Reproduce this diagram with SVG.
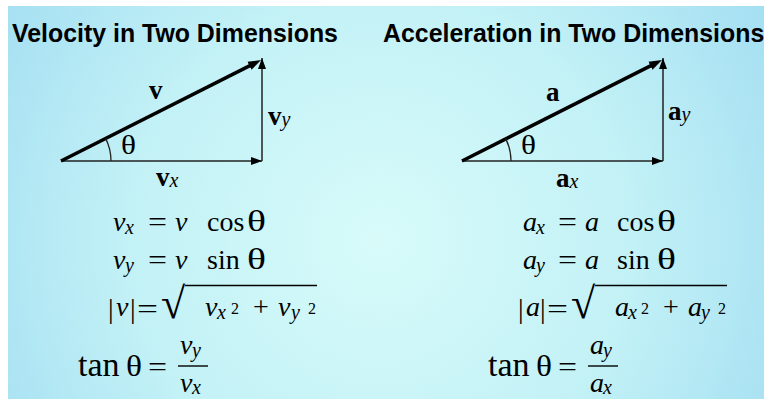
<svg xmlns="http://www.w3.org/2000/svg" width="764" height="399" viewBox="0 0 764 399">
<defs>
<radialGradient id="bg" cx="380" cy="240" r="460" gradientUnits="userSpaceOnUse">
<stop offset="0" stop-color="#d8fbfa"/>
<stop offset="0.55" stop-color="#c2f1f6"/>
<stop offset="1" stop-color="#a3def2"/>
</radialGradient>
<marker id="ahThick" markerUnits="userSpaceOnUse" markerWidth="14" markerHeight="10" viewBox="0 0 14 10" refX="5" refY="5" orient="auto">
<path d="M0,0.5 L13,5 L0,9.5 Z" fill="#000"/>
</marker>
<marker id="ahThin" markerUnits="userSpaceOnUse" markerWidth="12" markerHeight="10" viewBox="0 0 12 10" refX="11" refY="5" orient="auto">
<path d="M0,1 L11,5 L0,9 Z" fill="#000"/>
</marker>
</defs>
<style>
.title{font-family:"Liberation Sans",Arial,sans-serif;font-weight:bold;font-size:24.9px;fill:#000}
.m{font-family:"Liberation Serif","Times New Roman",serif;font-size:28px;fill:#000}
.i{font-style:italic}
.th{font-family:"Liberation Serif","Times New Roman",serif;font-size:30px;fill:#000}
.tan{font-family:"Liberation Serif","Times New Roman",serif;font-size:34px;fill:#000}
.rad{font-family:"Liberation Serif","Times New Roman",serif;font-size:44px;fill:#000}
.sub{font-family:"Liberation Serif","Times New Roman",serif;font-style:italic;font-size:20px;fill:#000}
.sup{font-family:"Liberation Serif","Times New Roman",serif;font-size:16px;fill:#000}
.vb{font-family:"Liberation Serif","Times New Roman",serif;font-weight:bold;font-size:27px;fill:#000}
.lab{font-family:"Liberation Serif","Times New Roman",serif;font-size:27px;fill:#000}
.hyp{stroke:#000;stroke-width:3.5;fill:none;marker-end:url(#ahThick)}
.leg{stroke:#222;stroke-width:1.5;fill:none;marker-end:url(#ahThin)}
.arc{stroke:#222;stroke-width:1.3;fill:none}
.bar{stroke:#000;stroke-width:1.4}
</style>
<rect x="0" y="0" width="764" height="399" fill="#fff"/>
<rect x="8" y="6" width="756" height="393" fill="url(#bg)"/>

<g id="velocity-title"><text class="title" x="12" y="42">Velocity in Two Dimensions</text></g>
<g id="acceleration-title"><text class="title" x="383" y="42">Acceleration in Two Dimensions</text></g>

<g id="connectors">
<line class="leg" x1="61" y1="161" x2="262" y2="161"/>
<line class="leg" x1="262" y1="161" x2="262" y2="58"/>
<line class="hyp" x1="61" y1="161" x2="253.9" y2="63.6"/>
<path class="arc" d="M111,161 A50,50 0 0 0 105.6,138.4"/>
<line class="leg" x1="462" y1="161" x2="663" y2="161"/>
<line class="leg" x1="663" y1="161" x2="663" y2="58"/>
<line class="hyp" x1="462" y1="161" x2="654.9" y2="63.6"/>
<path class="arc" d="M511,161 A49,49 0 0 0 505.8,138.9"/>
</g>

<g id="velocity-labels">
<text class="vb" x="149" y="99">v</text>
<text class="lab" x="121" y="154" textLength="15" lengthAdjust="spacingAndGlyphs">θ</text>
<text x="268" y="125"><tspan class="vb">v</tspan><tspan class="sub" dy="1">y</tspan></text>
<text x="156" y="186"><tspan class="vb">v</tspan><tspan class="sub" dy="1">x</tspan></text>
</g>
<g id="acceleration-labels">
<text class="vb" x="546" y="101">a</text>
<text class="lab" x="521" y="154" textLength="15" lengthAdjust="spacingAndGlyphs">θ</text>
<text x="668" y="120"><tspan class="vb">a</tspan><tspan class="sub" dy="1">y</tspan></text>
<text x="556" y="187"><tspan class="vb">a</tspan><tspan class="sub" dy="1">x</tspan></text>
</g>

<g id="velocity-equations">
<text class="m i" x="113" y="231">v</text><text class="sub" x="125" y="234">x</text>
<text class="m" x="148" y="231" textLength="19" lengthAdjust="spacingAndGlyphs">=</text>
<text class="m i" x="175" y="231">v</text><text class="m" x="207" y="231">cos</text><text class="th" x="247" y="231" textLength="19" lengthAdjust="spacingAndGlyphs">θ</text>

<text class="m i" x="113" y="269">v</text><text class="sub" x="125" y="272">y</text>
<text class="m" x="148" y="269" textLength="19" lengthAdjust="spacingAndGlyphs">=</text>
<text class="m i" x="175" y="269">v</text><text class="m" x="207" y="269">sin</text><text class="th" x="247" y="269" textLength="19" lengthAdjust="spacingAndGlyphs">θ</text>

<text class="m" x="108" y="318">|</text><text class="m i" x="116" y="316">v</text><text class="m" x="130" y="318">|</text>
<text class="m" x="137" y="318" textLength="21" lengthAdjust="spacingAndGlyphs">=</text>
<text class="rad" x="161" y="318">√</text>
<line class="bar" x1="185" y1="285.5" x2="317" y2="285.5"/>
<text class="m i" x="205" y="316">v</text><text class="sub" x="217" y="319">x</text><text class="sup" x="231" y="314">2</text>
<text class="m" x="253" y="316">+</text>
<text class="m i" x="278" y="316">v</text><text class="sub" x="291" y="319">y</text><text class="sup" x="308" y="314">2</text>

<text class="tan" x="78" y="376">tan</text><text class="th" x="126" y="376" textLength="16" lengthAdjust="spacingAndGlyphs">θ</text>
<text class="m" x="148" y="376" textLength="19" lengthAdjust="spacingAndGlyphs">=</text>
<text class="m i" x="180" y="354">v</text><text class="sub" x="192" y="357">y</text>
<line class="bar" x1="178" y1="366" x2="208" y2="366"/>
<text class="m i" x="180" y="392">v</text><text class="sub" x="192" y="394">x</text>
</g>

<g id="acceleration-equations">
<text class="m i" x="523" y="231">a</text><text class="sub" x="536" y="234">x</text>
<text class="m" x="558" y="231" textLength="19" lengthAdjust="spacingAndGlyphs">=</text>
<text class="m i" x="585" y="231">a</text><text class="m" x="617" y="231">cos</text><text class="th" x="657" y="231" textLength="19" lengthAdjust="spacingAndGlyphs">θ</text>

<text class="m i" x="523" y="269">a</text><text class="sub" x="536" y="272">y</text>
<text class="m" x="558" y="269" textLength="19" lengthAdjust="spacingAndGlyphs">=</text>
<text class="m i" x="585" y="269">a</text><text class="m" x="617" y="269">sin</text><text class="th" x="657" y="269" textLength="19" lengthAdjust="spacingAndGlyphs">θ</text>

<text class="m" x="518" y="318">|</text><text class="m i" x="526" y="316">a</text><text class="m" x="540" y="318">|</text>
<text class="m" x="547" y="318" textLength="21" lengthAdjust="spacingAndGlyphs">=</text>
<text class="rad" x="571" y="318">√</text>
<line class="bar" x1="595" y1="285.5" x2="727" y2="285.5"/>
<text class="m i" x="615" y="316">a</text><text class="sub" x="628" y="319">x</text><text class="sup" x="641" y="314">2</text>
<text class="m" x="663" y="316">+</text>
<text class="m i" x="688" y="316">a</text><text class="sub" x="701" y="319">y</text><text class="sup" x="718" y="314">2</text>

<text class="tan" x="488" y="376">tan</text><text class="th" x="536" y="376" textLength="16" lengthAdjust="spacingAndGlyphs">θ</text>
<text class="m" x="558" y="376" textLength="19" lengthAdjust="spacingAndGlyphs">=</text>
<text class="m i" x="590" y="354">a</text><text class="sub" x="603" y="357">y</text>
<line class="bar" x1="588" y1="366" x2="618" y2="366"/>
<text class="m i" x="590" y="392">a</text><text class="sub" x="603" y="394">x</text>
</g>
</svg>
